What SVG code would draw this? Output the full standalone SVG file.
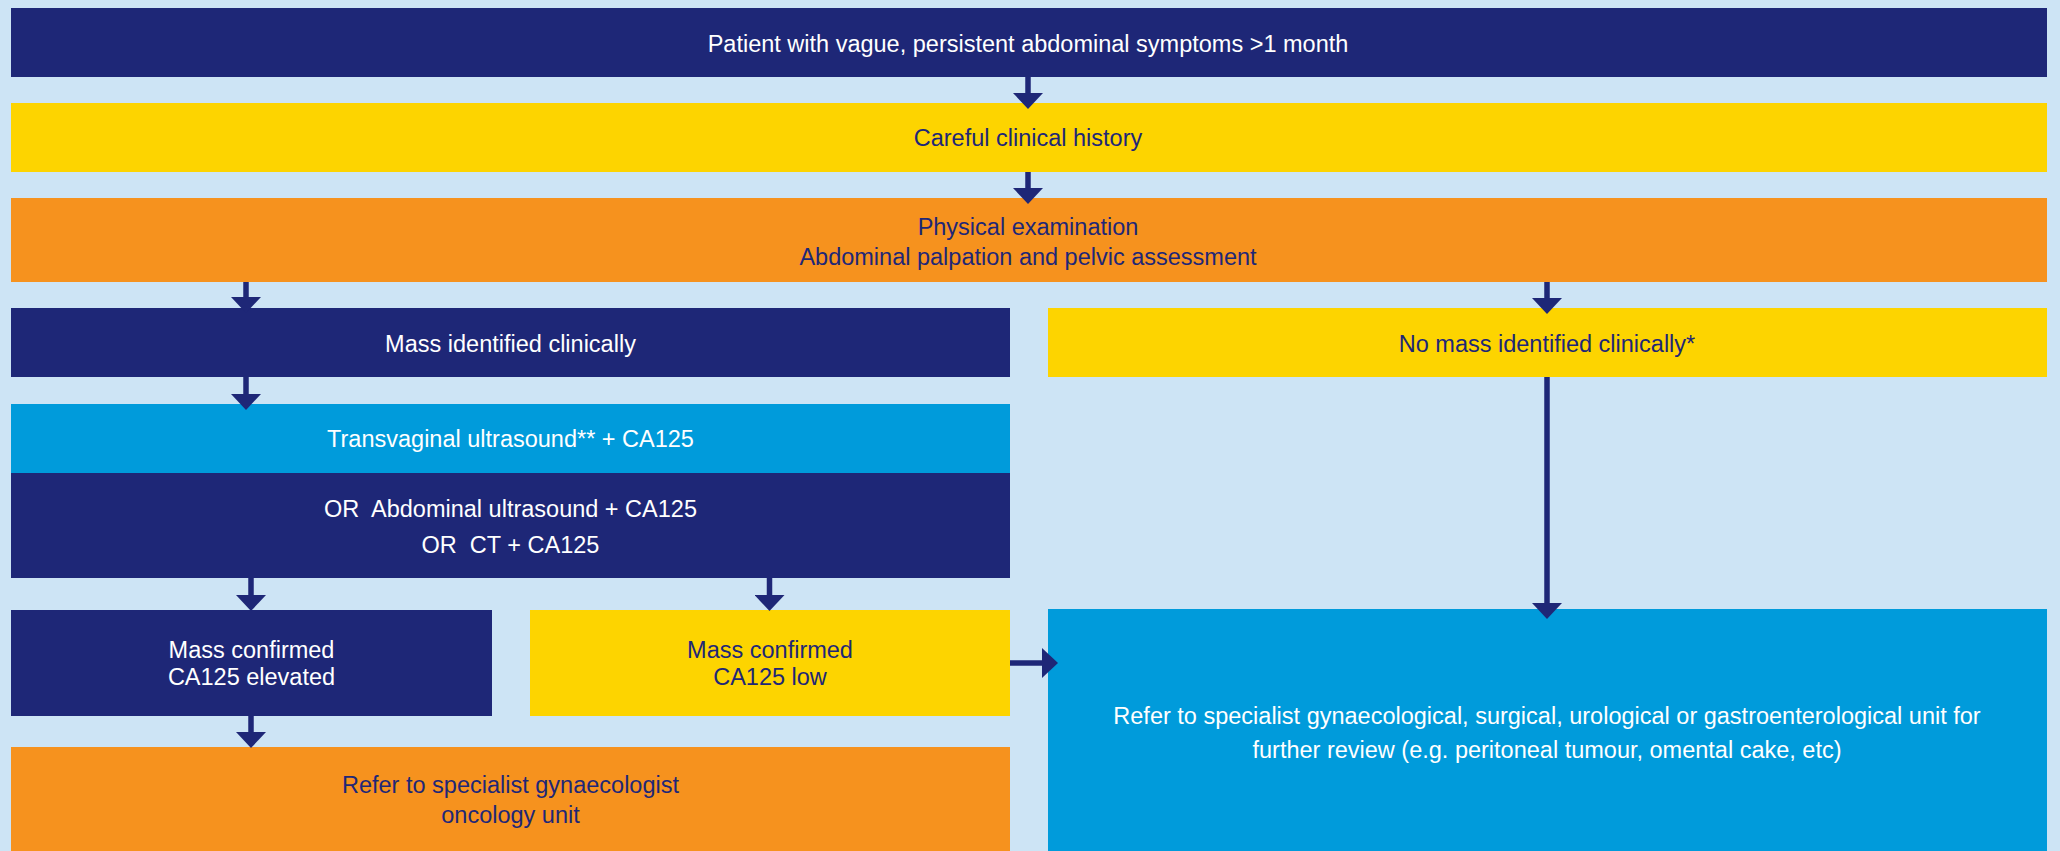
<svg xmlns="http://www.w3.org/2000/svg" width="2060" height="851" viewBox="0 0 2060 851">
<style>
.navy{fill:#1e2777}
.yellow{fill:#fdd400}
.orange{fill:#f6921e}
.blue{fill:#009bdb}
text{font-family:"Liberation Sans",Arial,sans-serif;font-size:23.5px;text-anchor:middle}
.tw{fill:#ffffff}
.tn{fill:#1e2777}
.conn line{stroke:#1e2777;stroke-width:5.5;fill:none}
</style>
<defs>
<marker id="arr" markerUnits="userSpaceOnUse" viewBox="0 0 16 30" refX="0" refY="15" markerWidth="16" markerHeight="30" orient="auto">
<path d="M0,0 L16,15 L0,30 z" fill="#1e2777"/>
</marker>
</defs>
<rect x="0" y="0" width="2060" height="851" fill="#cde4f5"/>

<g id="n_patient"><rect class="navy" x="11" y="8" width="2036" height="69"/><text class="tw" x="1028" y="52">Patient with vague, persistent abdominal symptoms &gt;1 month</text></g>
<g id="n_history"><rect class="yellow" x="11" y="103" width="2036" height="69"/><text class="tn" x="1028" y="146">Careful clinical history</text></g>
<g id="n_exam"><rect class="orange" x="11" y="198" width="2036" height="84"/><text class="tn" x="1028" y="235">Physical examination</text><text class="tn" x="1028" y="265">Abdominal palpation and pelvic assessment</text></g>
<g id="n_mass"><rect class="navy" x="11" y="308" width="999" height="69"/><text class="tw" x="510.5" y="352">Mass identified clinically</text></g>
<g id="n_nomass"><rect class="yellow" x="1048" y="308" width="999" height="69"/><text class="tn" x="1547" y="352">No mass identified clinically*</text></g>
<g id="n_tvus"><rect class="blue" x="11" y="404" width="999" height="69"/><text class="tw" x="510.5" y="447">Transvaginal ultrasound** + CA125</text></g>
<g id="n_or"><rect class="navy" x="11" y="473" width="999" height="105"/><text class="tw" x="510.5" y="517">OR&#160; Abdominal ultrasound + CA125</text><text class="tw" x="510.5" y="553">OR&#160; CT + CA125</text></g>
<g id="n_elev"><rect class="navy" x="11" y="610" width="481" height="106"/><text class="tw" x="251.5" y="658">Mass confirmed</text><text class="tw" x="251.5" y="685">CA125 elevated</text></g>
<g id="n_low"><rect class="yellow" x="530" y="610" width="480" height="106"/><text class="tn" x="770" y="658">Mass confirmed</text><text class="tn" x="770" y="685">CA125 low</text></g>
<g id="n_onc"><rect class="orange" x="11" y="747" width="999" height="104"/><text class="tn" x="510.5" y="793">Refer to specialist gynaecologist</text><text class="tn" x="510.5" y="823">oncology unit</text></g>
<g id="n_refer"><rect class="blue" x="1048" y="609" width="999" height="242"/><text class="tw" x="1547" y="724">Refer to specialist gynaecological, surgical, urological or gastroenterological unit for</text><text class="tw" x="1547" y="758">further review (e.g. peritoneal tumour, omental cake, etc)</text></g>

<g id="connectors" class="conn">
<line x1="1028" y1="77" x2="1028" y2="93" marker-end="url(#arr)"/>
<line x1="1028" y1="172" x2="1028" y2="188" marker-end="url(#arr)"/>
<line x1="246" y1="282" x2="246" y2="297" marker-end="url(#arr)"/>
<line x1="1547" y1="282" x2="1547" y2="298" marker-end="url(#arr)"/>
<line x1="246" y1="377" x2="246" y2="394" marker-end="url(#arr)"/>
<line x1="251" y1="578" x2="251" y2="595" marker-end="url(#arr)"/>
<line x1="769.5" y1="578" x2="769.5" y2="595" marker-end="url(#arr)"/>
<line x1="251" y1="716" x2="251" y2="732" marker-end="url(#arr)"/>
<line x1="1547" y1="377" x2="1547" y2="603" marker-end="url(#arr)"/>
<line x1="1010" y1="663" x2="1042" y2="663" marker-end="url(#arr)"/>
</g>
</svg>
